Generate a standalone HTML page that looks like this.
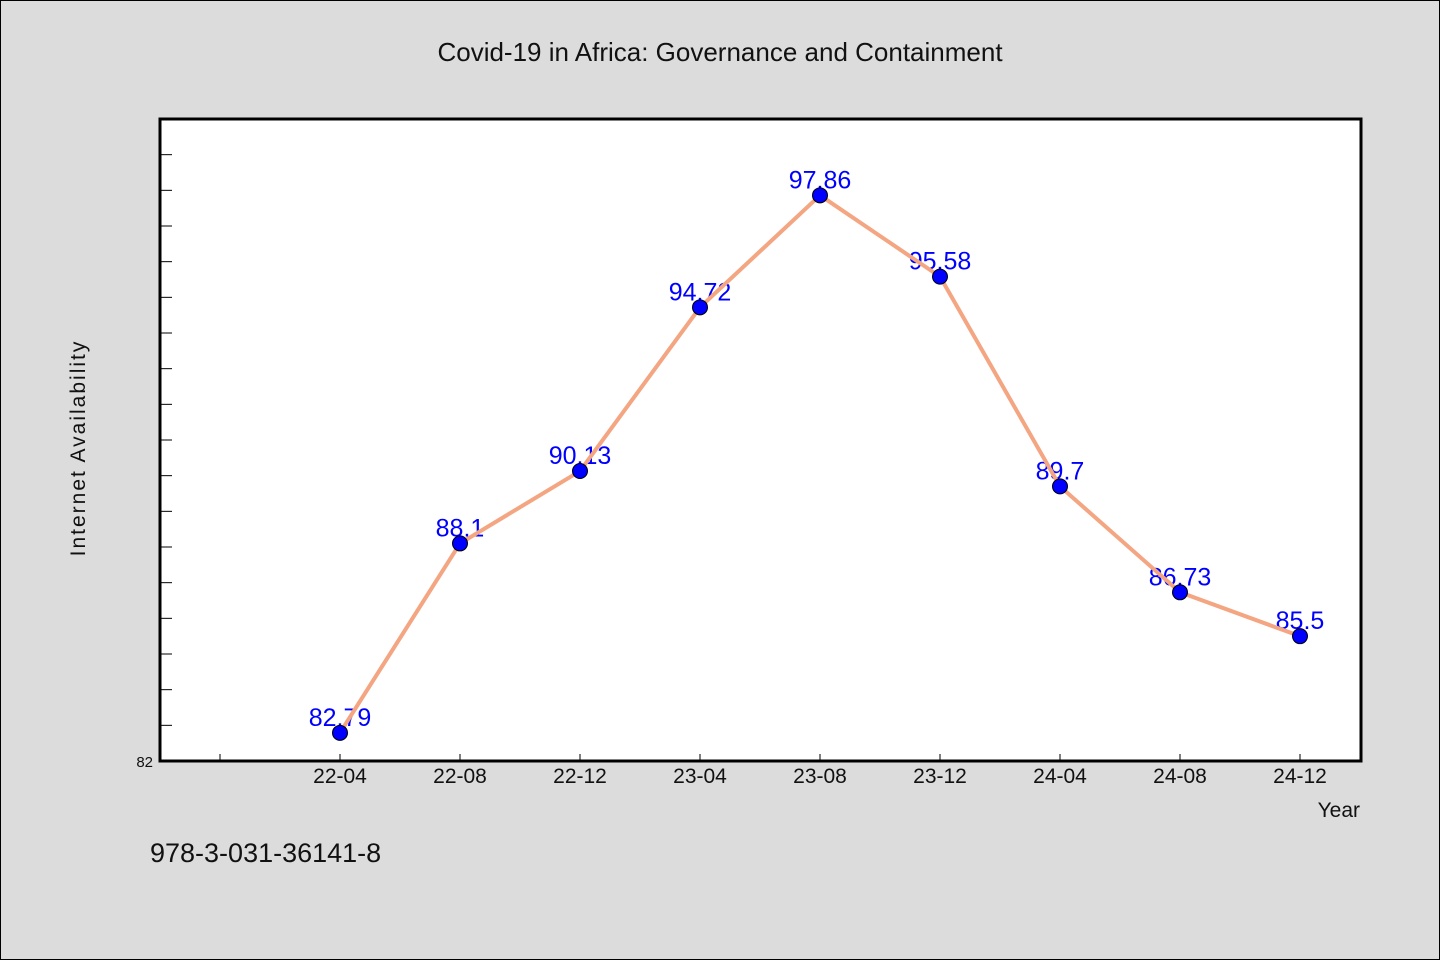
<!DOCTYPE html>
<html><head><meta charset="utf-8"><style>
html,body{margin:0;padding:0;background:#dcdcdc;}
svg{display:block;font-family:"WenQuanYi Zen Hei","Liberation Sans",sans-serif;}
</style></head><body>
<svg id="chart" width="1440" height="960">
<rect x="0.5" y="0.5" width="1439" height="959" fill="#dcdcdc" stroke="#000"/>
<text x="720" y="61" font-size="26" text-anchor="middle" fill="#111">Covid-19 in Africa: Governance and Containment</text>
<rect x="160" y="119" width="1201" height="642" fill="#fff"/>
<g id="ticks"></g>
<g id="series"></g>
<rect x="160" y="119" width="1201" height="642" fill="none" stroke="#000" stroke-width="3"/>
<text x="85" y="448" font-size="21" text-anchor="middle" fill="#111" transform="rotate(-90 85 448)" letter-spacing="2">Internet Availability</text>
<text x="1360" y="817" font-size="21" text-anchor="end" fill="#111">Year</text>
<text x="150" y="862" font-size="27" fill="#111">978-3-031-36141-8</text>
</svg>
<script>
const categories=["22-04","22-08","22-12","23-04","23-08","23-12","24-04","24-08","24-12"];
const values=[82.79,88.1,90.13,94.72,97.86,95.58,89.7,86.73,85.5];
const labels=["82.79","88.1","90.13","94.72","97.86","95.58","89.7","86.73","85.5"];
const yMin=82,yMax=100;
const NS="http://www.w3.org/2000/svg";
function xs(i){return 160+120*(i+1.5);}
function ys(v){return 761-(v-yMin)/(yMax-yMin)*642;}
function mk(tag,attrs,parent){const e=document.createElementNS(NS,tag);for(const k in attrs)e.setAttribute(k,attrs[k]);parent.appendChild(e);return e;}
const tg=document.getElementById('ticks');
for(let v=yMin+1;v<yMax;v++){
  const t=mk('line',{x1:160,x2:172,y1:ys(v),y2:ys(v),stroke:'#000','stroke-width':1},tg);
  
  
}
const y0=mk('text',{x:153,y:767,'font-size':15,'text-anchor':'end',fill:'#111'},tg);
y0.textContent=String(yMin);


for(let i=-1;i<categories.length;i++){
  const t=mk('line',{x1:xs(i),x2:xs(i),y1:754,y2:761,stroke:'#000','stroke-width':1},tg);
  
  
  if(i>=0){
    const l=mk('text',{x:xs(i),y:783,'font-size':21,'text-anchor':'middle',fill:'#111'},tg);
    l.textContent=categories[i];
    
    
  }
}
const sg=document.getElementById('series');
values.forEach((v,i)=>{
  const l=mk('text',{x:xs(i),y:ys(v)-7,'font-size':25,'text-anchor':'middle',fill:'#0000ff'},sg);
  l.textContent=labels[i];
  
  
});
const line=mk('polyline',{points:values.map((v,i)=>xs(i)+','+ys(v)).join(' '),fill:'none',stroke:'#f4a582','stroke-width':4,'stroke-linejoin':'round'},sg);


values.forEach((v,i)=>{
  const c=mk('circle',{cx:xs(i),cy:ys(v),r:7.5,fill:'#0000ff',stroke:'#000','stroke-width':1},sg);
  
  
});
</script>
</body></html>
